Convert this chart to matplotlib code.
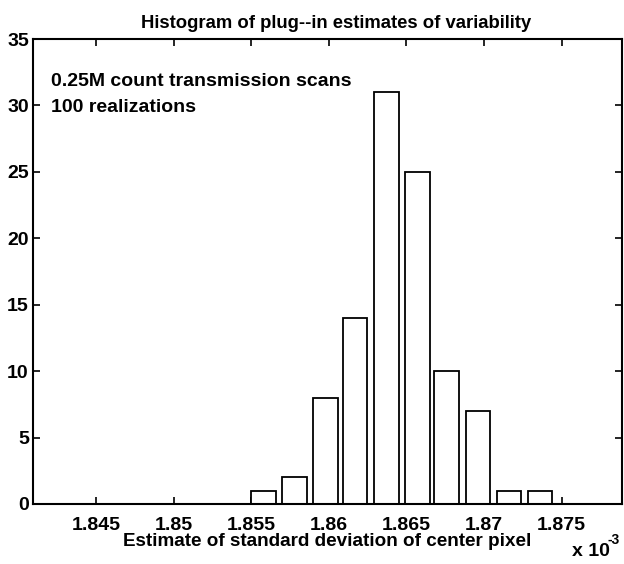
import matplotlib
matplotlib.use("Agg")
import matplotlib.pyplot as plt
import numpy as np

# bin centres in units of 1e-3, and counts per bin
bin_centers = [1.8558, 1.8578, 1.8598, 1.8617, 1.8637, 1.8657, 1.8676, 1.8696, 1.8716, 1.8736]
counts = [1, 2, 8, 14, 31, 25, 10, 7, 1, 1]
x_ticks = [1.845, 1.85, 1.855, 1.86, 1.865, 1.87, 1.875]
x_tick_labels = ["1.845", "1.85", "1.855", "1.86", "1.865", "1.87", "1.875"]
y_ticks = [0, 5, 10, 15, 20, 25, 30, 35]

plt.rcParams["font.family"] = ["Liberation Sans", "DejaVu Sans"]
plt.rcParams["font.weight"] = "bold"

fig = plt.figure(figsize=(6.24, 5.64), dpi=100)
ax = fig.add_axes([33 / 624, 60 / 564, 589 / 624, 465 / 564])

bin_width = np.mean(np.diff(bin_centers))
ax.bar(bin_centers, counts, width=0.8 * bin_width, color="white",
       edgecolor="black", linewidth=1.3, zorder=2)

ax.set_xlim(1.84094, 1.87889)
ax.set_ylim(0, 35)
ax.set_xticks(x_ticks)
ax.set_xticklabels(x_tick_labels)
ax.set_yticks(y_ticks)
ax.tick_params(direction="in", length=5, width=1.2, labelsize=14,
               top=True, right=True, pad=3)
ax.tick_params(axis="x", pad=9)
for spine in ax.spines.values():
    spine.set_linewidth(1.5)

ax.set_title("Histogram of plug--in estimates of variability", fontsize=13.3,
             fontweight="bold", pad=8, x=0.515)
ax.set_xlabel("Estimate of standard deviation of center pixel", fontsize=13.6,
              fontweight="bold", labelpad=0)

ax.text(0.03, 0.898, "0.25M count transmission scans", transform=ax.transAxes,
        fontsize=14, fontweight="bold", va="baseline")
ax.text(0.03, 0.842, "100 realizations", transform=ax.transAxes,
        fontsize=14, fontweight="bold", va="baseline")

fig.text(572 / 624, 1 - 556 / 564, "x 10", fontsize=14, fontweight="bold",
         va="baseline")
fig.text(607 / 624, 1 - 544 / 564, "-3", fontsize=10, fontweight="bold",
         va="baseline")

fig.savefig("out.png", dpi=100)
